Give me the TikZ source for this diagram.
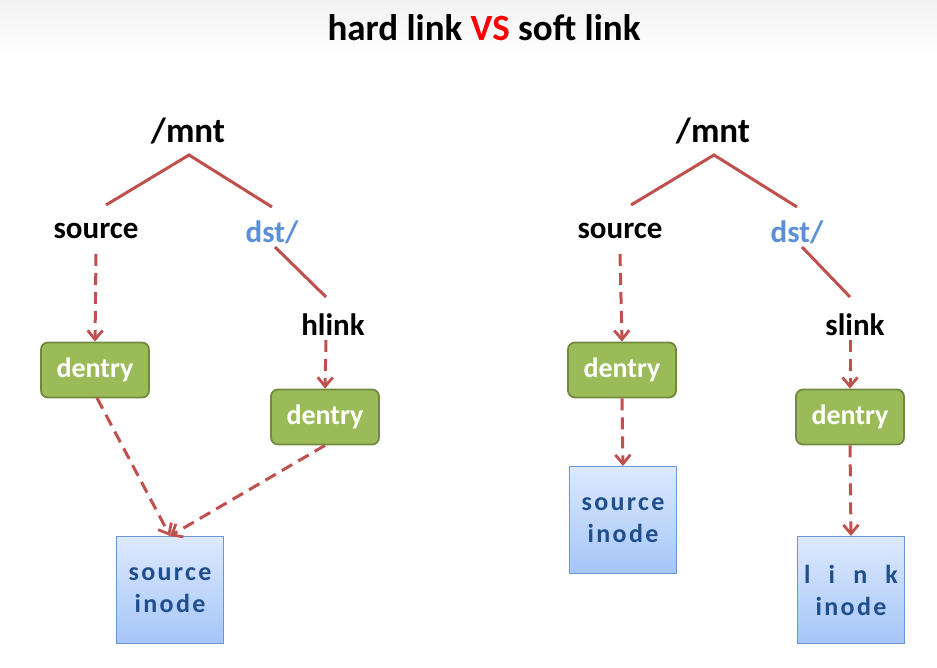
\documentclass[tikz,border=0pt]{standalone}
\usepackage{fontspec}
\setmainfont{Carlito}
\usetikzlibrary{arrows.meta}
\definecolor{lnk}{HTML}{C0504D}
\definecolor{dfill}{HTML}{9BBB59}
\definecolor{ddraw}{HTML}{71893F}
\definecolor{itop}{HTML}{DDE9FD}
\definecolor{ibot}{HTML}{A5C6F8}
\definecolor{idraw}{HTML}{6A95D6}
\definecolor{itext}{HTML}{1F4E8C}
\definecolor{dstc}{HTML}{5B8FD8}
\tikzset{
  x=1pt,y=1pt,
  lbl/.style={font=\fontsize{31}{33}\selectfont\bfseries, inner sep=0pt},
  rootlbl/.style={font=\fontsize{35}{37}\selectfont\bfseries, inner sep=0pt},
  dentrybox/.style={draw=ddraw, line width=1.8pt, fill=dfill, rounded corners=7pt,
    minimum width=108pt, minimum height=55pt, text=white,
    font=\fontsize{28}{30}\selectfont\bfseries},
  inodebox/.style={draw=idraw, line width=1pt, top color=itop, bottom color=ibot,
    minimum width=107pt, minimum height=107pt, text=itext, align=center,
    font=\fontsize{26}{32}\selectfont\bfseries\addfontfeature{LetterSpace=9}},
  solidline/.style={draw=lnk, line width=3pt},
  dashline/.style={draw=lnk, line width=3pt, dash pattern=on 12pt off 7pt,
    -{Straight Barb[length=9pt,width=15pt,line width=2.8pt]}},
}
\begin{document}
\begin{tikzpicture}
\useasboundingbox (0,0) rectangle (937,667);
\shade[top color=black!5, bottom color=white] (0,667) rectangle (937,610);
\node[font=\fontsize{37}{39}\selectfont\bfseries, inner sep=0pt] (title) at (484,639)
  {hard link \textcolor[HTML]{FF0000}{VS} soft link};

% left tree
\node[rootlbl] (lmnt) at (188,536) {/mnt};
\coordinate (lapex) at (189,512);
\coordinate (lleft) at (106,462);
\coordinate (lright) at (272,460);
\node[lbl] (lsrc) at (96,436) {source};
\node[lbl, text=dstc] (ldst) at (272,435) {dst/};
\node[lbl] (hlink) at (333,342) {hlink};
\node[dentrybox] (ld1) at (95,297) {dentry};
\node[dentrybox] (ld2) at (325,250) {dentry};
\node[inodebox] (lino) at (170,77) {source\\inode};
\draw[solidline] (lleft) -- (lapex) -- (lright);
\draw[solidline] (275,420) -- (326,370);
\draw[dashline] (96,413) -- (ld1.north);
\draw[dashline] (326,327) -- (ld2.north);
\draw[dashline] (97,269) -- (lino.north);
\draw[dashline] (ld2.south) -- (lino.north);

% right tree
\node[rootlbl] (rmnt) at (713,536) {/mnt};
\coordinate (rapex) at (714,512);
\coordinate (rleft) at (631,462);
\coordinate (rright) at (797,460);
\node[lbl] (rsrc) at (620,436) {source};
\node[lbl, text=dstc] (rdst) at (797,435) {dst/};
\node[lbl] (slink) at (855,342) {slink};
\node[dentrybox] (rd1) at (622,297) {dentry};
\node[dentrybox] (rd2) at (850,250) {dentry};
\node[inodebox] (rino1) at (623,147) {source\\inode};
\node[inodebox, font=\fontsize{26}{32}\selectfont\bfseries\addfontfeature{LetterSpace=70}] (rino2) at (851,77) {link\\{\addfontfeature{LetterSpace=9}inode}};
\draw[solidline] (rleft) -- (rapex) -- (rright);
\draw[solidline] (802,420) -- (850,370);
\draw[dashline] (620,413) -- (rd1.north);
\draw[dashline] (850,327) -- (rd2.north);
\draw[dashline] (rd1.south) -- (rino1.north);
\draw[dashline] (rd2.south) -- (rino2.north);
\end{tikzpicture}
\end{document}
